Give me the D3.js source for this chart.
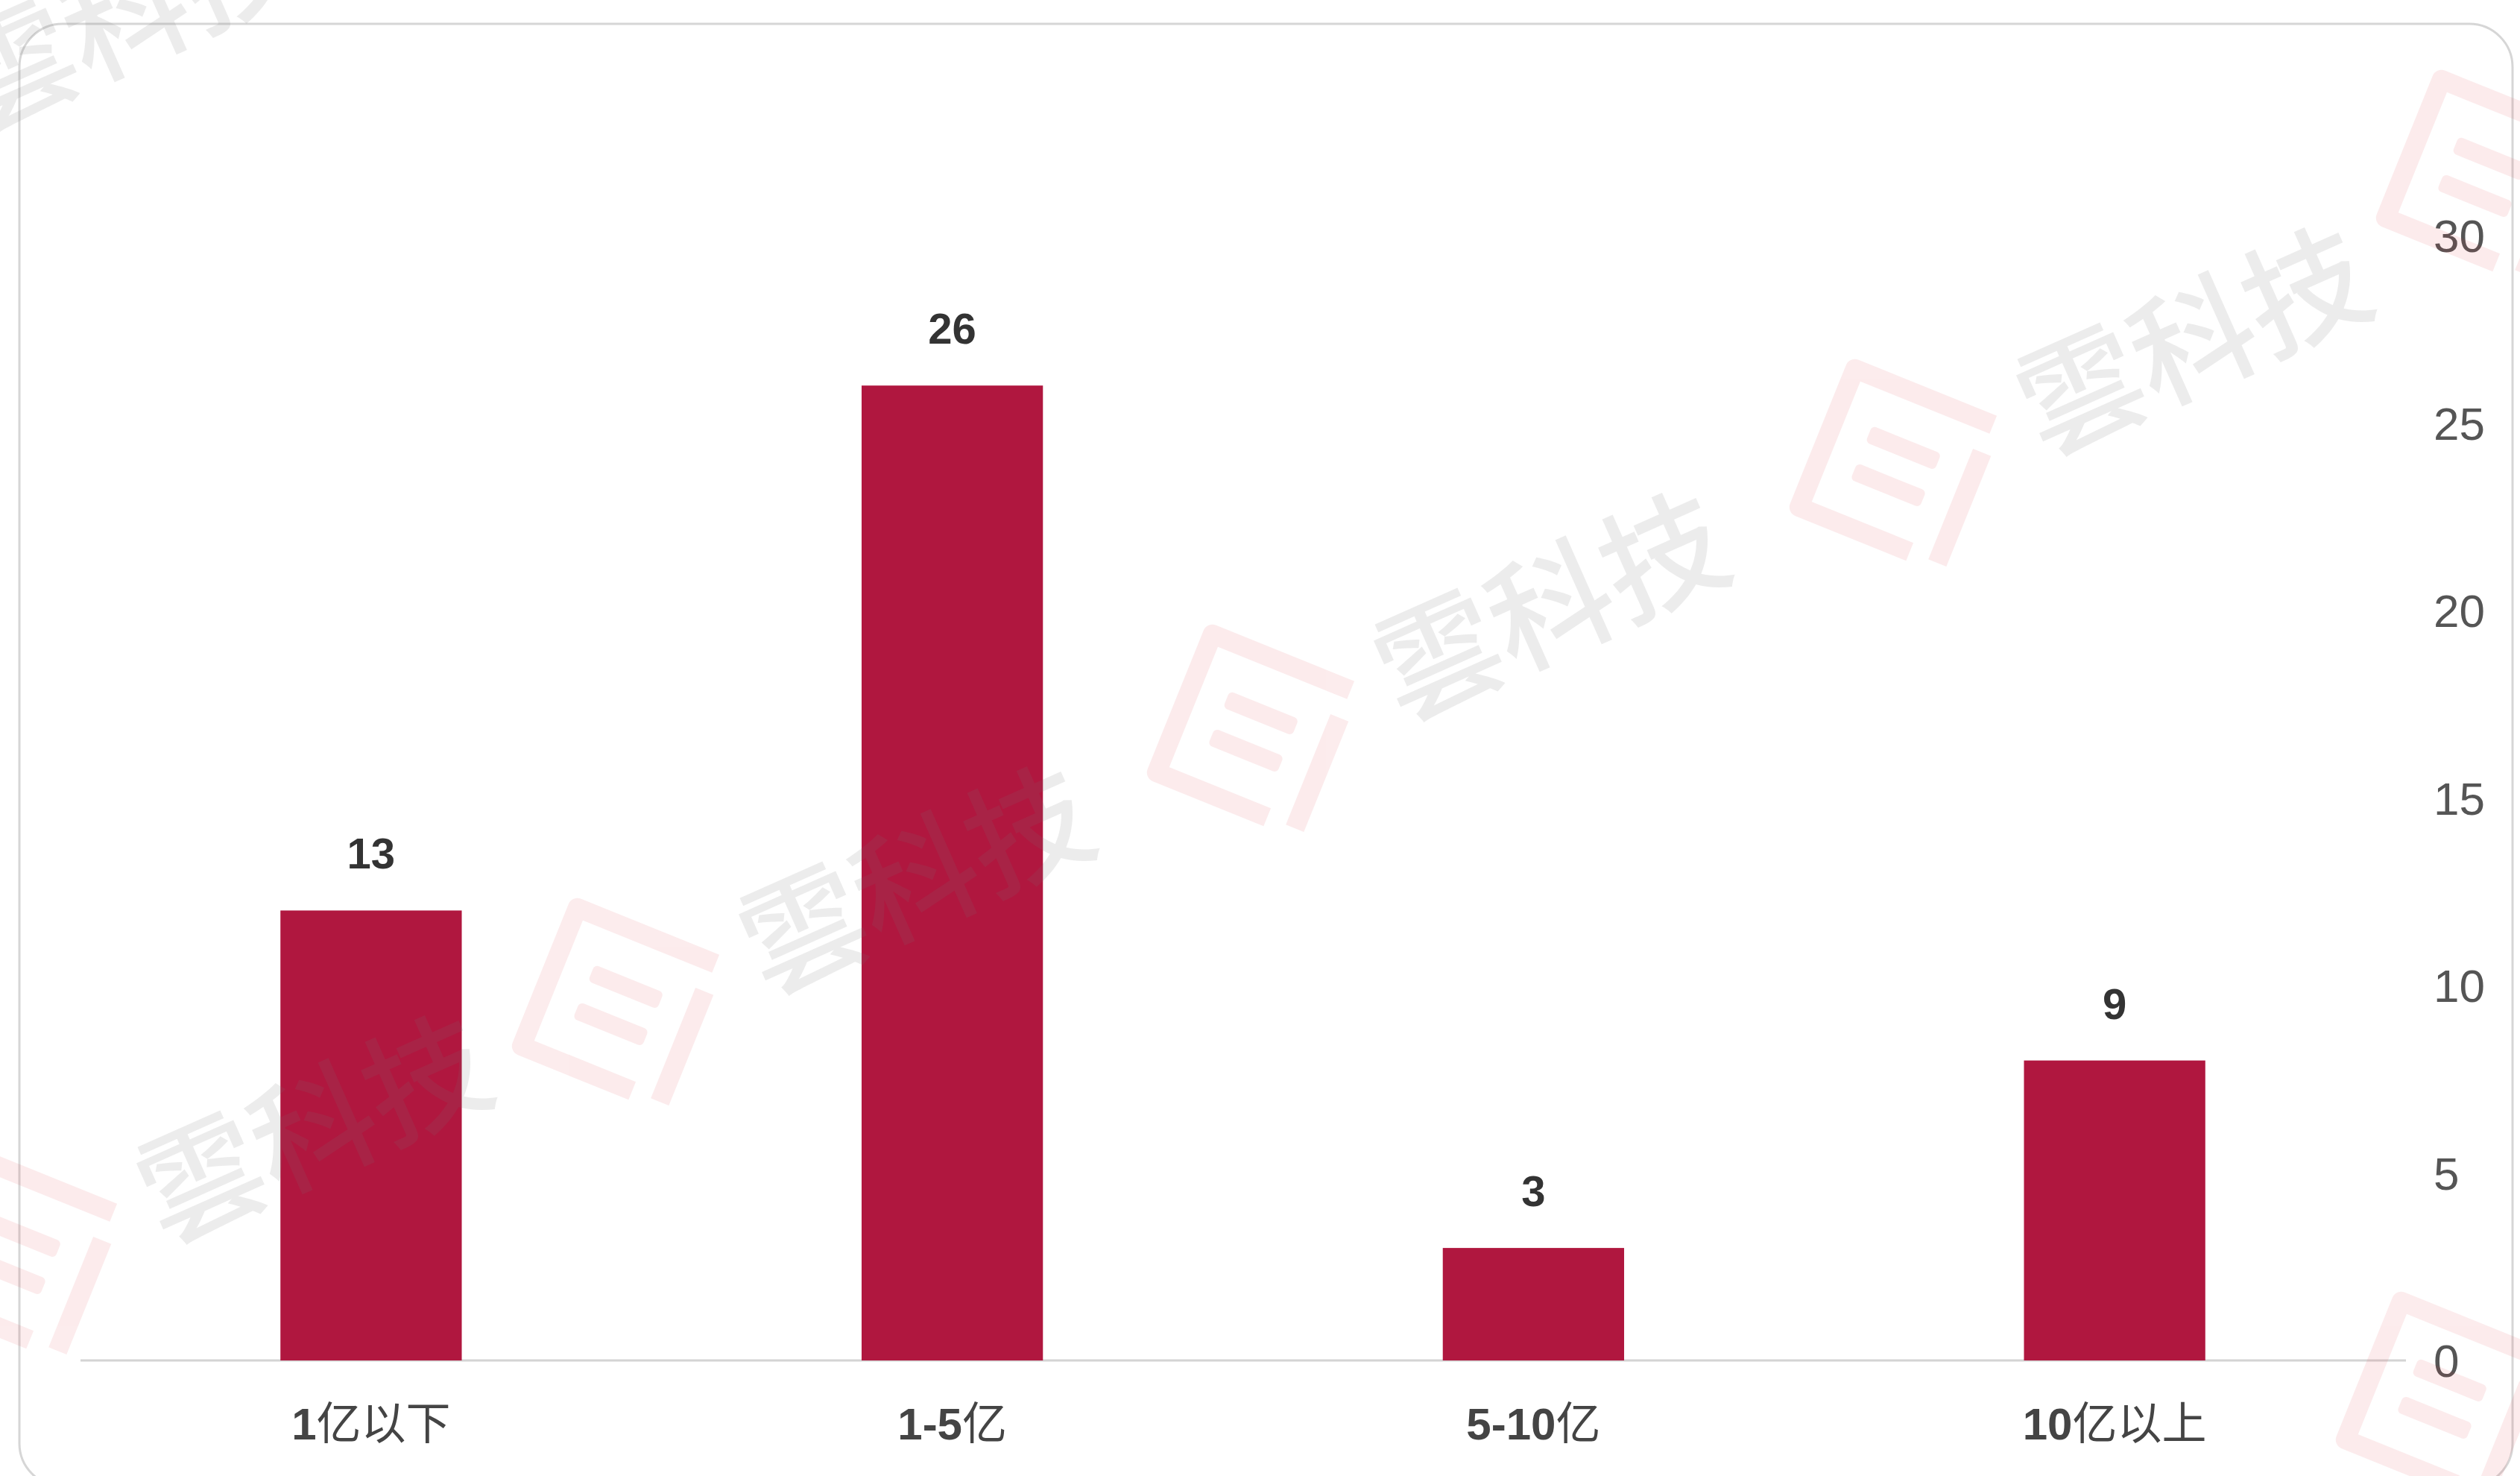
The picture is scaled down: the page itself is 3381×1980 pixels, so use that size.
<!DOCTYPE html>
<html>
<head>
<meta charset="utf-8">
<script src="https://cdn.jsdelivr.net/npm/d3@7"></script>
<style>
  html, body { margin: 0; padding: 0; background: #ffffff; }
  svg { display: block; }
</style>
</head>
<body>
<svg id="chart" width="3381" height="1980"></svg>
<script>
// ---- data ----
const categories = ["1亿以下", "1-5亿", "5-10亿", "10亿以上"];
const barValues = [12, 26, 3, 8];          // bar heights as drawn
const valueLabels = ["13", "26", "3", "9"]; // labels printed above bars
const yTickValues = [0, 5, 10, 15, 20, 25, 30];
const watermarkText = "雲科技";

// ---- layout ----
const W = 3381, H = 1980;
const svg = d3.select("#chart");
svg.append("rect").attr("width", W).attr("height", H).attr("fill", "#ffffff");

// card border
svg.append("rect")
  .attr("x", 26).attr("y", 32)
  .attr("width", 3345).attr("height", 1962)
  .attr("rx", 58).attr("ry", 58)
  .attr("fill", "none")
  .attr("stroke", "#d6d6d6")
  .attr("stroke-width", 3);

const x = d3.scaleBand().domain(categories).range([108, 3227]).padding(0);
const y = d3.scaleLinear().domain([0, 30]).range([1825, 316]);
const barW = x.bandwidth() * 0.312;

// baseline
svg.append("line")
  .attr("x1", 108).attr("x2", 3228)
  .attr("y1", y(0)).attr("y2", y(0))
  .attr("stroke", "#d4d4d4").attr("stroke-width", 3);

// bars
svg.append("g").selectAll("rect")
  .data(categories)
  .join("rect")
  .attr("x", d => x(d) + x.bandwidth() / 2 - barW / 2)
  .attr("y", (d, i) => y(barValues[i]))
  .attr("width", barW)
  .attr("height", (d, i) => y(0) - y(barValues[i]))
  .attr("fill", "#b0173f");

// value labels
svg.append("g").selectAll("text")
  .data(categories)
  .join("text")
  .attr("x", d => x(d) + x.bandwidth() / 2)
  .attr("y", (d, i) => y(barValues[i]) - 56)
  .attr("text-anchor", "middle")
  .attr("font-family", "'Liberation Sans', Arial, sans-serif")
  .attr("font-weight", "bold")
  .attr("font-size", 58)
  .attr("fill", "#333333")
  .text((d, i) => valueLabels[i]);

// x category labels (digits bold, CJK regular)
const xl = svg.append("g").selectAll("text")
  .data(categories)
  .join("text")
  .attr("x", d => x(d) + x.bandwidth() / 2)
  .attr("y", 1931)
  .attr("text-anchor", "middle")
  .attr("font-size", 60)
  .attr("fill", "#444444");
xl.each(function(d) {
  const parts = d.match(/[0-9\-]+|[^0-9\-]+/g);
  const t = d3.select(this);
  parts.forEach(p => {
    const isNum = /[0-9\-]/.test(p);
    t.append("tspan")
      .attr("font-family", isNum ? "'Liberation Sans', Arial, sans-serif" : "'Noto Sans CJK SC', sans-serif")
      .attr("font-weight", isNum ? "bold" : "normal")
      .text(p);
  });
});

// right y axis
const yAxis = d3.axisRight(y).tickValues(yTickValues).tickSize(0).tickPadding(0);
const yg = svg.append("g").attr("transform", "translate(3265,0)").call(yAxis);
yg.select(".domain").remove();
yg.selectAll("text")
  .attr("font-family", "'Liberation Sans', Arial, sans-serif")
  .attr("font-size", 62)
  .attr("fill", "#555555")
  .attr("text-anchor", "start")
  .attr("dy", "0.35em");

// ---- watermarks (decorative) ----
const wm = svg.append("g").attr("pointer-events", "none");
// [logoX, logoY, withText]
const anchors = [
  [22, 1682, true], [830, 1348, true], [1682, 981, true], [2544, 625, true],
  [3331, 237, false], [3277, 1876, false], [-230, 190, true]
];
anchors.forEach(([ax, ay, withText]) => {
  const logo = wm.append("g")
    .attr("transform", `translate(${ax},${ay}) rotate(22)`)
    .attr("opacity", 0.09);
  logo.append("path")
    .attr("d", "M-100,60 L-100,-100 L100,-100 M60,100 L-100,100 L-100,60 M100,-60 L100,100")
    .attr("fill", "none")
    .attr("stroke", "#e0303a")
    .attr("stroke-width", 26)
    .attr("stroke-linejoin", "round");
  logo.append("rect").attr("x", -50).attr("y", -38).attr("width", 100).attr("height", 24).attr("rx", 6).attr("fill", "#e0303a");
  logo.append("rect").attr("x", -50).attr("y", 16).attr("width", 100).attr("height", 24).attr("rx", 6).attr("fill", "#e0303a");
  if (withText) {
    wm.append("text")
      .attr("transform", `translate(${ax + 400},${ay - 165}) rotate(-24)`)
      .attr("text-anchor", "middle")
      .attr("dy", "0.35em")
      .attr("font-family", "'Noto Sans CJK TC', 'Noto Sans CJK SC', sans-serif")
      .attr("font-weight", 500)
      .attr("font-size", 165)
      .attr("fill", "#777777")
      .attr("opacity", 0.13)
      .text(watermarkText);
  }
});
</script>
</body>
</html>
